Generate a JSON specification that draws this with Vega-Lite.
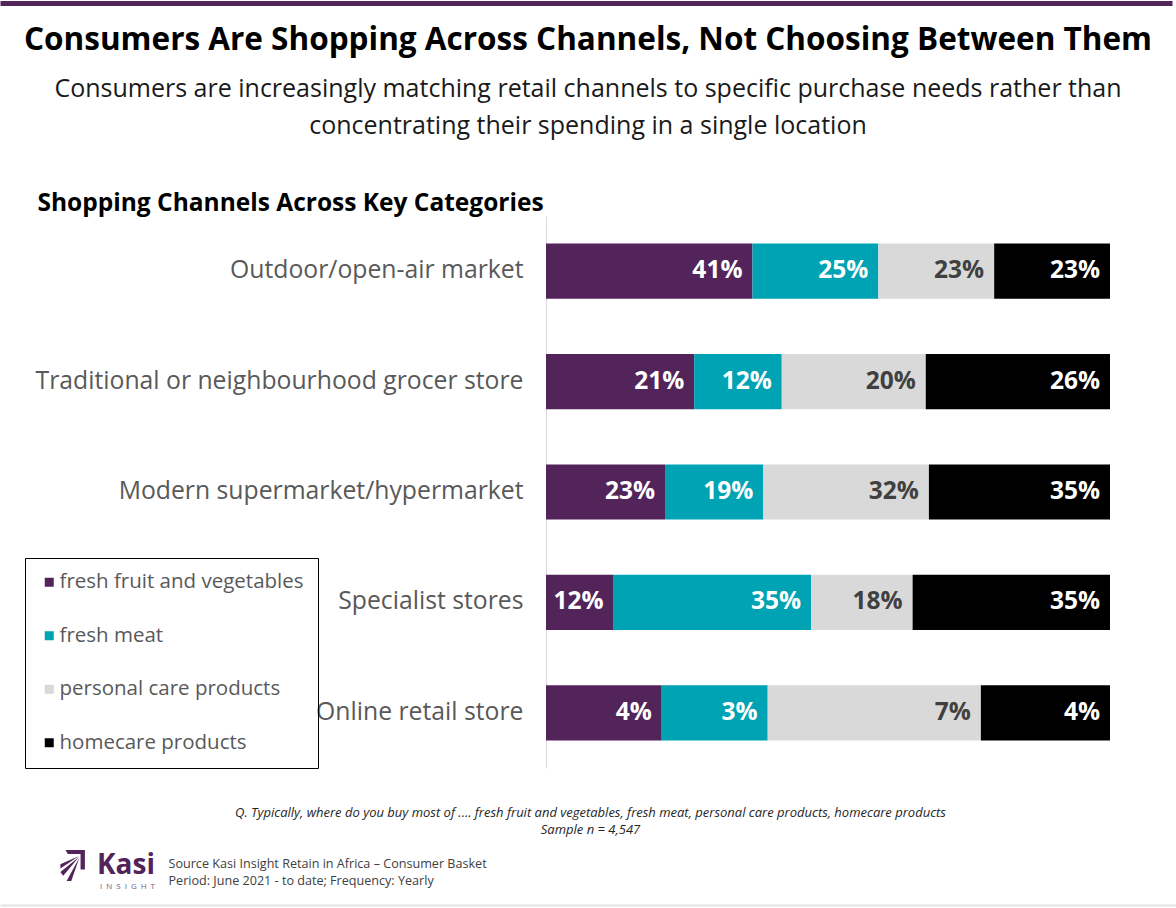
{
  "$schema": "https://vega.github.io/schema/vega-lite/v6.json",
  "width": 564,
  "height": 552,
  "autosize": {"type": "none"},
  "padding": {"left": 546, "top": 216, "right": 66, "bottom": 140},
  "background": "white",
  "config": {
    "font": "Open Sans",
    "view": {"stroke": null}
  },
  "title": {
    "text": "Consumers Are Shopping Across Channels, Not Choosing Between Them",
    "subtitle": ["Consumers are increasingly matching retail channels to specific purchase needs rather than", "concentrating their spending in a single location"],
    "anchor": "middle",
    "frame": "group",
    "dx": -240,
    "offset": 54,
    "dy": 192,
    "font": "Open Sans",
    "fontSize": 31.5,
    "fontWeight": "bold",
    "color": "#000000",
    "subtitleFont": "Open Sans",
    "subtitleFontSize": 25,
    "subtitleColor": "#1a1a1a",
    "subtitleLineHeight": 37,
    "subtitlePadding": 20
  },
  "data": {
    "values": [
      {"channel": "Outdoor/open-air market", "cat": "fresh fruit and vegetables", "ord": 1, "value": 41, "label": "41%"},
      {"channel": "Outdoor/open-air market", "cat": "fresh meat", "ord": 2, "value": 25, "label": "25%"},
      {"channel": "Outdoor/open-air market", "cat": "personal care products", "ord": 3, "value": 23, "label": "23%"},
      {"channel": "Outdoor/open-air market", "cat": "homecare products", "ord": 4, "value": 23, "label": "23%"},
      {"channel": "Traditional or neighbourhood grocer store", "cat": "fresh fruit and vegetables", "ord": 1, "value": 21, "label": "21%"},
      {"channel": "Traditional or neighbourhood grocer store", "cat": "fresh meat", "ord": 2, "value": 12.4, "label": "12%"},
      {"channel": "Traditional or neighbourhood grocer store", "cat": "personal care products", "ord": 3, "value": 20.4, "label": "20%"},
      {"channel": "Traditional or neighbourhood grocer store", "cat": "homecare products", "ord": 4, "value": 26.1, "label": "26%"},
      {"channel": "Modern supermarket/hypermarket", "cat": "fresh fruit and vegetables", "ord": 1, "value": 23, "label": "23%"},
      {"channel": "Modern supermarket/hypermarket", "cat": "fresh meat", "ord": 2, "value": 19, "label": "19%"},
      {"channel": "Modern supermarket/hypermarket", "cat": "personal care products", "ord": 3, "value": 32, "label": "32%"},
      {"channel": "Modern supermarket/hypermarket", "cat": "homecare products", "ord": 4, "value": 35, "label": "35%"},
      {"channel": "Specialist stores", "cat": "fresh fruit and vegetables", "ord": 1, "value": 12, "label": "12%"},
      {"channel": "Specialist stores", "cat": "fresh meat", "ord": 2, "value": 35, "label": "35%"},
      {"channel": "Specialist stores", "cat": "personal care products", "ord": 3, "value": 18, "label": "18%"},
      {"channel": "Specialist stores", "cat": "homecare products", "ord": 4, "value": 35, "label": "35%"},
      {"channel": "Online retail store", "cat": "fresh fruit and vegetables", "ord": 1, "value": 3.8, "label": "4%"},
      {"channel": "Online retail store", "cat": "fresh meat", "ord": 2, "value": 3.48, "label": "3%"},
      {"channel": "Online retail store", "cat": "personal care products", "ord": 3, "value": 7.0, "label": "7%"},
      {"channel": "Online retail store", "cat": "homecare products", "ord": 4, "value": 4.24, "label": "4%"}
    ]
  },
  "resolve": {"axis": {"x": "independent", "y": "independent"}},
  "layer": [
    {
      "mark": {"type": "bar"},
      "encoding": {
        "x": {
          "field": "value", "type": "quantitative", "stack": "normalize",
          "scale": {"domain": [0, 1], "nice": false},
          "axis": {
            "orient": "bottom", "labels": false, "ticks": false, "domain": false, "grid": false,
            "title": ["Q. Typically, where do you buy most of .... fresh fruit and vegetables, fresh meat, personal care products, homecare products", "Sample n = 4,547"],
            "titleFont": "Open Sans", "titleFontStyle": "italic", "titleFontWeight": "normal", "titleFontSize": 13,
            "titleColor": "#262626", "titleX": 44, "titleY": 38, "titleAlign": "center", "titleBaseline": "top", "titleLineHeight": 17
          }
        },
        "y": {
          "field": "channel", "type": "nominal",
          "sort": ["Outdoor/open-air market", "Traditional or neighbourhood grocer store", "Modern supermarket/hypermarket", "Specialist stores", "Online retail store"],
          "scale": {"paddingInner": 0.5, "paddingOuter": 0.25},
          "axis": {
            "orient": "left",
            "title": "Shopping Channels Across Key Categories",
            "titleAngle": 0, "titleAlign": "left", "titleBaseline": "middle", "titleX": -509, "titleY": -13,
            "titleFont": "Open Sans", "titleFontSize": 24.5, "titleFontWeight": "bold", "titleColor": "#000000",
            "labelFont": "Open Sans", "labelFontSize": 24.75, "labelColor": "#595959", "labelPadding": 23, "labelLimit": 600,
            "ticks": false, "domainColor": "#d9d9d9", "domainWidth": 1, "grid": false
          }
        },
        "color": {
          "field": "cat", "type": "nominal",
          "scale": {
            "domain": ["fresh fruit and vegetables", "fresh meat", "personal care products", "homecare products"],
            "range": ["#52245A", "#00A3B3", "#D9D9D9", "#000000"]
          },
          "legend": {
            "title": null, "orient": "none", "legendX": -521, "legendY": 342,
            "strokeColor": "#000000", "padding": 14, "symbolType": "square", "symbolSize": 81,
            "symbolStrokeWidth": 0, "labelFont": "Open Sans", "labelFontSize": 20.5, "labelColor": "#595959",
            "rowPadding": 32.5, "labelOffset": 0, "labelLimit": 400
          }
        },
        "order": {"field": "ord", "type": "quantitative"}
      }
    },
    {
      "mark": {"type": "text", "align": "right", "baseline": "middle", "dx": -10, "font": "Open Sans", "fontSize": 24.5, "fontWeight": "bold"},
      "encoding": {
        "x": {
          "field": "value", "type": "quantitative", "stack": "normalize",
          "axis": {
            "orient": "top", "labels": false, "ticks": false, "domain": false, "grid": false,
            "title": ["Source Kasi Insight Retain in Africa – Consumer Basket", "Period: June 2021 - to date; Frequency: Yearly"],
            "titleFont": "Open Sans", "titleFontWeight": "normal", "titleFontSize": 12.6, "titleColor": "#404040",
            "titleX": -378, "titleY": 641, "titleAlign": "left", "titleBaseline": "top", "titleLineHeight": 17
          }
        },
        "y": {
          "field": "channel", "type": "nominal",
          "sort": ["Outdoor/open-air market", "Traditional or neighbourhood grocer store", "Modern supermarket/hypermarket", "Specialist stores", "Online retail store"],
          "axis": {
            "orient": "right", "values": ["Online retail store"], "labels": false, "domain": false, "grid": false, "title": null,
            "ticks": true, "tickColor": "#e3e3e3", "tickWidth": 2, "tickSize": 1176, "tickOffset": 192, "offset": -1110
          }
        },
        "detail": {"field": "cat", "type": "nominal"},
        "order": {"field": "ord", "type": "quantitative"},
        "text": {"field": "label", "type": "nominal"},
        "color": {
          "condition": {"test": "datum.cat === 'personal care products'", "value": "#404040"},
          "value": "#ffffff"
        }
      }
    },
    {
      "data": {"values": [{"brand": "Kasi"}]},
      "mark": {"type": "point", "filled": true, "opacity": 0, "color": "#52245A"},
      "encoding": {
        "y": {
          "datum": "Outdoor/open-air market", "type": "nominal",
          "axis": {
            "orient": "right", "values": ["Outdoor/open-air market"], "labels": false, "domain": false, "grid": false, "title": null,
            "ticks": true, "tickColor": "#52245A", "tickWidth": 5, "tickSize": 1172, "tickOffset": -268, "offset": -1110
          }
        },
        "shape": {
          "field": "brand", "type": "nominal",
          "scale": {"range": ["M -0.45 -1 L 0.8 -1 L 0.8 0.25 L 0.52 0.25 L 0.52 -0.74 L -0.3 -0.74 Z M 0.42 -0.62 L -0.78 -0.08 L -0.78 0.2 Z M 0.42 -0.55 L -0.78 0.42 L -0.6 0.66 Z M 0.44 -0.5 L -0.38 1 L -0.08 1 Z"]},
          "legend": {
            "title": "I\u2002N\u2002S\u2002I\u2002G\u2002H\u2002T", "titleOrient": "bottom", "titleAnchor": "end", "titleFontSize": 8,
            "titleFontWeight": "normal", "titleColor": "#7b5a80", "titlePadding": 2,
            "orient": "none", "legendX": -489, "legendY": 634, "padding": 0,
            "symbolSize": 961, "symbolStrokeWidth": 0, "symbolOpacity": 1, "symbolFillColor": "#52245A",
            "labelFont": "Open Sans", "labelFontSize": 28, "labelFontWeight": "bold", "labelColor": "#52245A", "labelOffset": 9
          }
        }
      }
    }
  ]
}
